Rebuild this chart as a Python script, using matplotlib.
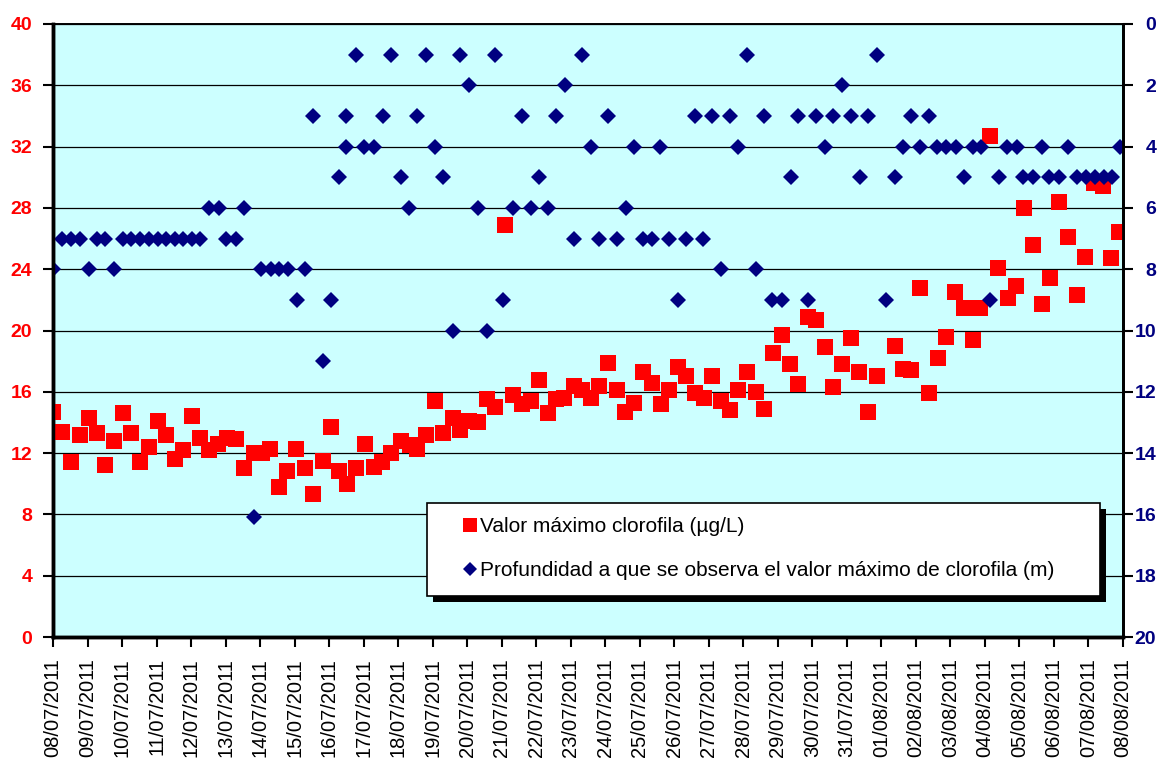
import matplotlib
matplotlib.use('Agg')
from matplotlib import pyplot as plt
from matplotlib.patches import Rectangle
import pandas as pd

plt.rcParams['font.family'] = ['Liberation Sans', 'DejaVu Sans']

# days since 08/07/2011
chl_day = [0.01, 0.25, 0.51, 0.77, 1.03, 1.27, 1.52, 1.76, 2.03, 2.27,
           2.52, 2.77, 3.03, 3.28, 3.53, 3.77, 4.03, 4.27, 4.52, 4.79,
           5.05, 5.29, 5.53, 5.82, 6.05, 6.29, 6.55, 6.79, 7.04, 7.30,
           7.54, 7.81, 8.05, 8.29, 8.52, 8.78, 9.04, 9.29, 9.52, 9.80,
           10.07, 10.33, 10.55, 10.81, 11.06, 11.30, 11.59, 11.78, 12.05, 12.31,
           12.58, 12.80, 13.09, 13.33, 13.58, 13.84, 14.09, 14.33, 14.57, 14.81,
           15.08, 15.32, 15.58, 15.82, 16.08, 16.34, 16.58, 16.84, 17.08, 17.35,
           17.62, 17.86, 18.11, 18.35, 18.61, 18.86, 19.10, 19.36, 19.60, 19.85,
           20.10, 20.36, 20.60, 20.87, 21.11, 21.36, 21.57, 21.86, 22.10, 22.36,
           22.61, 22.86, 23.12, 23.36, 23.62, 23.87, 24.38, 24.62, 24.86, 25.12,
           25.37, 25.64, 25.88, 26.12, 26.39, 26.64, 26.87, 27.14, 27.39, 27.66,
           27.90, 28.14, 28.40, 28.64, 28.89, 29.16, 29.40, 29.66, 29.90, 30.17,
           30.42, 30.65, 30.89]
chl_max = [14.7, 13.4, 11.4, 13.2, 14.3, 13.3, 11.2, 12.8, 14.6, 13.3,
           11.4, 12.4, 14.1, 13.2, 11.6, 12.2, 14.4, 13.0, 12.2, 12.6,
           13.0, 12.9, 11.0, 12.0, 12.0, 12.3, 9.8, 10.8, 12.3, 11.0,
           9.3, 11.5, 13.7, 10.8, 10.0, 11.0, 12.6, 11.1, 11.4, 12.0,
           12.8, 12.5, 12.3, 13.2, 15.4, 13.3, 14.3, 13.5, 14.1, 14.0,
           15.5, 15.0, 26.9, 15.8, 15.2, 15.4, 16.8, 14.6, 15.5, 15.6,
           16.4, 16.1, 15.6, 16.4, 17.9, 16.1, 14.7, 15.3, 17.3, 16.6,
           15.2, 16.1, 17.6, 17.0, 15.9, 15.6, 17.0, 15.4, 14.8, 16.1,
           17.3, 16.0, 14.9, 18.5, 19.7, 17.8, 16.5, 20.9, 20.7, 18.9,
           16.3, 17.8, 19.5, 17.3, 14.7, 17.0, 19.0, 17.5, 17.4, 22.8,
           15.9, 18.2, 19.6, 22.5, 21.5, 19.4, 21.5, 32.7, 24.1, 22.1,
           22.9, 28.0, 25.6, 21.7, 23.4, 28.4, 26.1, 22.3, 24.8, 29.6,
           29.4, 24.7, 26.4]

depth_day = [0.01, 0.25, 0.51, 0.77, 1.03, 1.27, 1.52, 1.76, 2.03, 2.27,
             2.52, 2.77, 3.03, 3.28, 3.53, 3.77, 4.03, 4.27, 4.52, 4.81,
             5.00, 5.29, 5.53, 5.82, 6.02, 6.31, 6.55, 6.81, 7.06, 7.30,
             7.54, 7.81, 8.05, 8.29, 8.49, 8.49, 8.78, 9.02, 9.29, 9.55,
             9.80, 10.07, 10.31, 10.55, 10.81, 11.06, 11.30, 11.59, 11.80, 12.05,
             12.32, 12.58, 12.80, 13.05, 13.33, 13.58, 13.84, 14.08, 14.33, 14.57,
             14.82, 15.10, 15.32, 15.58, 15.82, 16.08, 16.34, 16.60, 16.84, 17.08,
             17.35, 17.60, 17.86, 18.11, 18.35, 18.61, 18.84, 19.10, 19.36, 19.60,
             19.85, 20.10, 20.36, 20.60, 20.84, 21.13, 21.38, 21.57, 21.86, 22.10,
             22.36, 22.61, 22.86, 23.12, 23.38, 23.62, 23.87, 24.14, 24.38, 24.62,
             24.86, 25.11, 25.37, 25.61, 25.88, 26.15, 26.39, 26.64, 26.90, 27.16,
             27.41, 27.63, 27.92, 28.11, 28.38, 28.64, 28.87, 29.16, 29.42, 29.66,
             29.93, 30.19, 30.44, 30.68, 30.90]
depth = [8, 7, 7, 7, 8, 7, 7, 8, 7, 7,
         7, 7, 7, 7, 7, 7, 7, 7, 6, 6,
         7, 7, 6, 16.1, 8, 8, 8, 8, 9, 8,
         3, 11, 9, 5, 4, 3, 1, 4, 4, 3,
         1, 5, 6, 3, 1, 4, 5, 10, 1, 2,
         6, 10, 1, 9, 6, 3, 6, 5, 6, 3,
         2, 7, 1, 4, 7, 3, 7, 6, 4, 7,
         7, 4, 7, 9, 7, 3, 7, 3, 8, 3,
         4, 1, 8, 3, 9, 9, 5, 3, 9, 3,
         4, 3, 2, 3, 5, 3, 1, 9, 5, 4,
         3, 4, 3, 4, 4, 4, 5, 4, 4, 9,
         5, 4, 4, 5, 5, 4, 5, 5, 4, 5,
         5, 5, 5, 5, 4]

date_labels = pd.date_range('2011-07-08', '2011-08-08').strftime('%d/%m/%Y')

fig = plt.figure(figsize=(11.65, 7.58), dpi=100)
W, H = 1165, 758
ax = fig.add_axes([53 / W, 1 - 637 / H, (1123 - 53) / W, (637 - 24) / H])
ax.set_facecolor('#CCFFFF')

ax.plot(chl_day, chl_max, 's', color='#FF0000', markersize=11, mew=0,
        label='Valor máximo clorofila (µg/L)', zorder=3)
ax.set_xlim(0, 31)
ax.set_ylim(0, 40)
ax.set_yticks(range(0, 41, 4))
ax.grid(axis='y', color='black', linewidth=0.9)
ax.set_axisbelow(True)
ax.set_xticks(range(0, 32))
ax.set_xticklabels(date_labels, rotation=90, fontsize=14.5)
ax.tick_params(axis='x', direction='out', length=7, width=1.5, pad=8)
ax.tick_params(axis='y', direction='out', length=7, width=1.5, pad=8,
               labelcolor='#FF0000', labelsize=14)
for lab in ax.get_yticklabels():
    lab.set_fontweight('bold')

ax2 = ax.twinx()
ax2.plot(depth_day, depth, 'D', color='#000080', markersize=7.8, mew=0,
         label='Profundidad a que se observa el valor máximo de clorofila (m)')
ax2.set_ylim(20, 0)
ax2.set_yticks(range(0, 21, 2))
ax2.tick_params(axis='y', direction='out', length=7, width=1.5, pad=17,
                labelcolor='#000080', labelsize=14)
for lab in ax2.get_yticklabels():
    lab.set_fontweight('bold')
    lab.set_horizontalalignment('right')

for a in (ax, ax2):
    a.spines['left'].set_linewidth(2.5)
    a.spines['bottom'].set_linewidth(2.5)
    a.spines['right'].set_linewidth(2.0)
    a.spines['top'].set_linewidth(1.2)

# legend box with shadow
x0, y0, x1, y1 = 427, 503, 1100, 596
fig.add_artist(Rectangle(((x0 + 6) / W, 1 - (y1 + 6) / H), (x1 - x0) / W, (y1 - y0) / H,
                         transform=fig.transFigure, facecolor='black', edgecolor='none', zorder=2))
fig.add_artist(Rectangle((x0 / W, 1 - y1 / H), (x1 - x0) / W, (y1 - y0) / H,
                         transform=fig.transFigure, facecolor='white', edgecolor='black',
                         linewidth=1.2, zorder=3))
h1, l1 = ax.get_legend_handles_labels()
h2, l2 = ax2.get_legend_handles_labels()
leg = fig.legend(h1 + h2, l1 + l2, loc='upper left', bbox_to_anchor=(452 / W, 1 - 507 / H),
                 frameon=False, fontsize=15, handlelength=0.7, handletextpad=0.15,
                 labelspacing=1.2, borderpad=0, markerscale=0.95)
leg.set_zorder(4)

plt.savefig('out.png', dpi=100)
